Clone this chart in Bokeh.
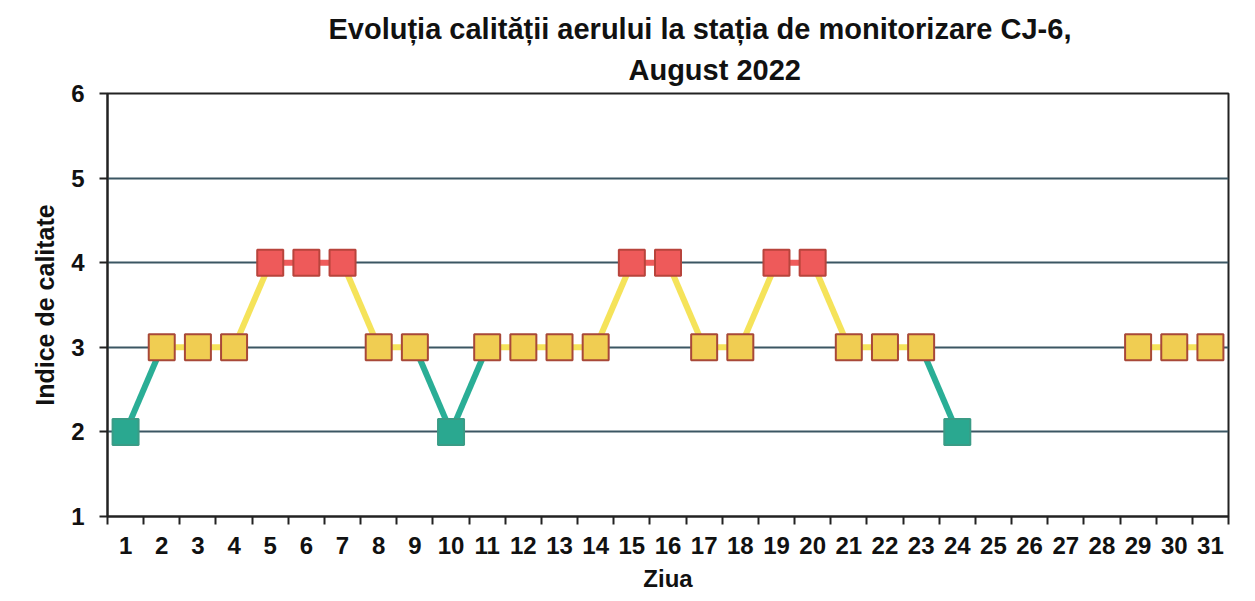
import math
from bokeh.plotting import figure
from bokeh.models import Range1d, FixedTicker, Title
from bokeh.embed import file_html
from bokeh.resources import INLINE

# ---- data ----
days = list(range(1, 32))
day_labels = [str(d) for d in days]
nan = float("nan")
quality = [2, 3, 3, 3, 4, 4, 4, 3, 3, 2, 3, 3, 3, 3, 4, 4, 3, 3, 4, 4,
           3, 3, 3, 2, nan, nan, nan, nan, 3, 3, 3]
y_ticks = [1, 2, 3, 4, 5, 6]
title_lines = ["Evoluția calității aerului la stația de monitorizare CJ-6,", "August 2022"]

# ---- styles ----
FONT = "Liberation Sans"
line_colors = {2: "#2aae96", 3: "#f5e35a", 4: "#ef5b5b"}
fill_colors = {2: "#2aa890", 3: "#f0cd52", 4: "#ee5a5a"}
edge_colors = {2: "#3a9c86", 3: "#a84838", 4: "#b8443c"}

p = figure(width=1255, height=601, output_backend="svg", toolbar_location=None,
           x_range=Range1d(0.5, 31.5), y_range=Range1d(1, 6),
           min_border_left=107, min_border_right=27, min_border_top=93, min_border_bottom=85)
p.background_fill_color = "white"
p.border_fill_color = "white"
p.outline_line_color = "#222222"
p.outline_line_width = 2

# grid
p.xgrid.grid_line_color = None
p.ygrid.ticker = FixedTicker(ticks=y_ticks)
p.ygrid.grid_line_color = "#3b5663"
p.ygrid.grid_line_width = 2

# x axis
xa = p.xaxis[0]
xa.ticker = FixedTicker(ticks=days, minor_ticks=[d + 0.5 for d in [0] + days])
xa.major_label_overrides = {d: s for d, s in zip(days, day_labels)}
xa.major_tick_out = 0
xa.major_tick_in = 0
xa.minor_tick_out = 8
xa.minor_tick_in = 0
xa.minor_tick_line_color = "#222222"
xa.minor_tick_line_width = 2
xa.axis_line_color = "#222222"
xa.axis_line_width = 2
xa.major_label_text_font = FONT
xa.major_label_text_font_style = "bold"
xa.major_label_text_font_size = "24px"
xa.major_label_text_color = "#111111"
xa.major_label_standoff = 12
xa.axis_label = "Ziua"
xa.axis_label_text_font = FONT
xa.axis_label_text_font_style = "bold"
xa.axis_label_text_font_size = "24px"
xa.axis_label_text_color = "#111111"
xa.axis_label_standoff = 8

# y axis
ya = p.yaxis[0]
ya.ticker = FixedTicker(ticks=y_ticks)
ya.major_tick_out = 8
ya.major_tick_in = 0
ya.major_tick_line_color = "#222222"
ya.major_tick_line_width = 2
ya.minor_tick_line_color = None
ya.axis_line_color = "#222222"
ya.axis_line_width = 2
ya.major_label_text_font = FONT
ya.major_label_text_font_style = "bold"
ya.major_label_text_font_size = "24px"
ya.major_label_text_color = "#111111"
ya.major_label_standoff = 15
ya.axis_label = "Indice de calitate"
ya.axis_label_text_font = FONT
ya.axis_label_text_font_style = "bold"
ya.axis_label_text_font_size = "25px"
ya.axis_label_text_color = "#111111"
ya.axis_label_standoff = 9

# line segments coloured by lower endpoint
x0, y0, x1, y1, sc = [], [], [], [], []
for i in range(len(days) - 1):
    a, b = quality[i], quality[i + 1]
    if math.isnan(a) or math.isnan(b):
        continue
    x0.append(days[i]); y0.append(a); x1.append(days[i + 1]); y1.append(b)
    sc.append(line_colors[int(min(a, b))])
p.segment(x0=x0, y0=y0, x1=x1, y1=y1, line_color=sc, line_width=6)

# markers
mx, my, mf, ml = [], [], [], []
for d, q in zip(days, quality):
    if math.isnan(q):
        continue
    mx.append(d); my.append(q)
    mf.append(fill_colors[int(q)]); ml.append(edge_colors[int(q)])
p.scatter(x=mx, y=my, marker="square", size=26, fill_color=mf, line_color=ml, line_width=2)

# title (two lines, second line added first so it sits nearest the plot)
p.add_layout(Title(text=title_lines[1], align="left", offset=521,
                   text_font=FONT, text_font_style="bold", text_font_size="29px",
                   text_line_height=0.7,
                   text_color="#111111", standoff=15), "above")
p.add_layout(Title(text=title_lines[0], align="left", offset=221,
                   text_font=FONT, text_font_style="bold", text_font_size="29px",
                   text_color="#111111", standoff=0), "above")

open("out.html", "w").write(file_html(p, INLINE))
